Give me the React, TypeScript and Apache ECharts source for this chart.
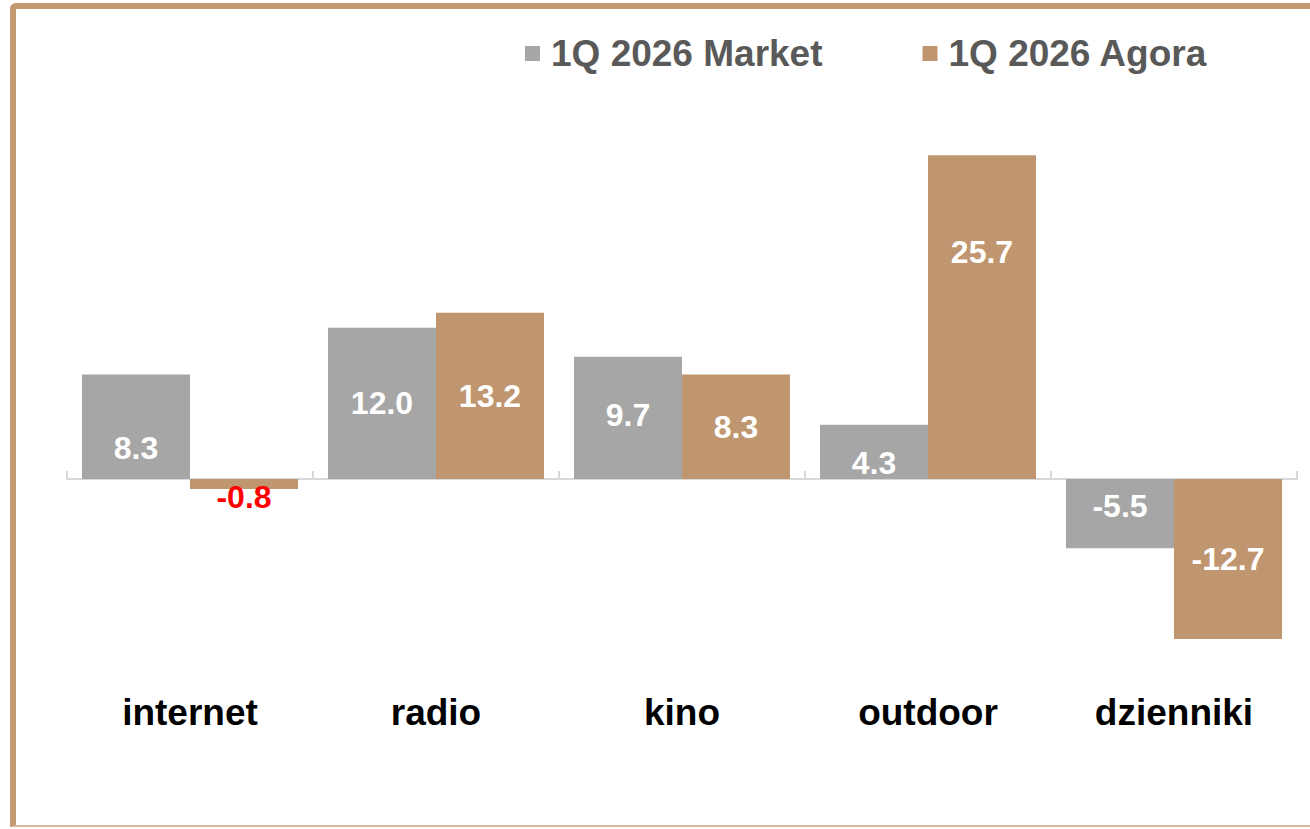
import React, { useEffect, useRef } from "react";
import * as echarts from "echarts";

const categories = ["internet", "radio", "kino", "outdoor", "dzienniki"];
const marketValues = [8.3, 12.0, 9.7, 4.3, -5.5];
const agoraValues = [-0.8, 13.2, 8.3, 25.7, -12.7];
const seriesNames = ["1Q 2026 Market", "1Q 2026 Agora"];

// label vertical nudges (style only)
const marketLabelShift = [21, 0, -3, 11, -8];
const agoraLabelShift = [0, 0, 0, -65, 0];

const FONT = "'Liberation Sans', Arial, sans-serif";
const GRAY = "#A6A6A6";
const TAN = "#C09670";

function fmt(v: number) {
  return v.toFixed(1);
}

export default function App() {
  const ref = useRef<HTMLDivElement>(null);
  useEffect(() => {
    if (!ref.current) return;
    const chart = echarts.init(ref.current, null, { renderer: "svg" });
    const baseLabel = {
      show: true,
      position: "inside",
      color: "#FFFFFF",
      fontFamily: FONT,
      fontWeight: "bold",
      fontSize: 32,
      formatter: (p: any) => fmt(p.value),
    };
    const marketData = marketValues.map((v, i) => ({
      value: v,
      label: { ...baseLabel, offset: [0, marketLabelShift[i]] },
    }));
    const agoraData = agoraValues.map((v, i) => {
      if (v < 0 && Math.abs(v) < 2) {
        return {
          value: v,
          label: {
            ...baseLabel,
            position: "bottom",
            distance: 0,
            offset: [0, -8],
            color: "#FF0000",
          },
        };
      }
      return { value: v, label: { ...baseLabel, offset: [0, agoraLabelShift[i]] } };
    });
    chart.setOption({
      animation: false,
      backgroundColor: "transparent",
      legend: {
        data: seriesNames,
        left: 520,
        top: 30,
        itemWidth: 15,
        itemHeight: 15,
        itemGap: 100,
        icon: "rect",
        textStyle: {
          fontFamily: FONT,
          fontWeight: "bold",
          fontSize: 37,
          color: "#595959",
          padding: [0, 0, 0, 6],
        },
      },
      grid: { left: 67, right: 13, top: 101, bottom: 161, containLabel: false },
      xAxis: [
        {
          type: "category",
          data: categories,
          axisLine: { onZero: true, lineStyle: { color: "#D9D9D9", width: 2 } },
          axisTick: { show: true, inside: true, length: 8, lineStyle: { color: "#D9D9D9", width: 2 } },
          axisLabel: { show: false },
        },
        {
          type: "category",
          data: categories,
          position: "bottom",
          axisLine: { show: false, onZero: false },
          axisTick: { show: false },
          axisLabel: {
            margin: 26,
            color: "#000000",
            fontFamily: FONT,
            fontWeight: "bold",
            fontSize: 37,
          },
        },
      ],
      yAxis: {
        type: "value",
        min: -15,
        max: 30,
        interval: 5,
        show: false,
        splitLine: { show: false },
      },
      series: [
        {
          name: seriesNames[0],
          type: "bar",
          xAxisIndex: 0,
          data: marketData,
          barWidth: 108,
          barGap: "0%",
          itemStyle: { color: GRAY },
        },
        {
          name: seriesNames[1],
          type: "bar",
          xAxisIndex: 0,
          data: agoraData,
          barWidth: 108,
          barGap: "0%",
          itemStyle: { color: TAN },
        },
      ],
    });
    return () => chart.dispose();
  }, []);

  return (
    <div
      style={{
        position: "absolute",
        left: 0,
        top: 0,
        width: 1310,
        height: 829,
        background: "#FFFFFF",
        overflow: "hidden",
      }}
    >
      <div
        style={{
          position: "absolute",
          left: 10,
          top: 3,
          width: 1320,
          height: 824,
          borderLeft: "6px solid #C49A73",
          borderTop: "6px solid #C49A73",
          borderBottom: "2px solid #D7BBA0",
          borderTopLeftRadius: 6,
          boxSizing: "border-box",
        }}
      />
      <div ref={ref} style={{ position: "absolute", left: 0, top: 0, width: 1310, height: 829 }} />
    </div>
  );
}
